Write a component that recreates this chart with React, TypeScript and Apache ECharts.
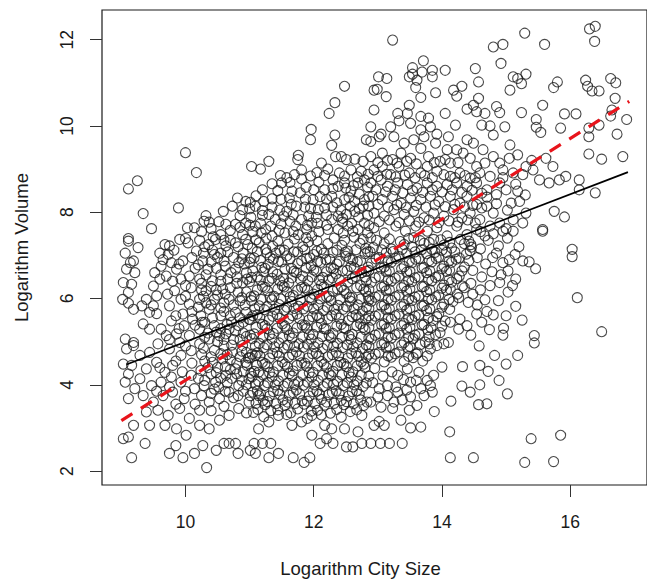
import React, { useEffect, useRef } from "react";
import * as echarts from "echarts";

const xTickValues = [10, 12, 14, 16];
const yTickValues = [2, 4, 6, 8, 10, 12];
const xRange = [8.698, 17.197];
const yRange = [1.677, 12.688];

const blackFit = [[9.08, 4.47], [16.9, 8.93]];
const redFit = [[9.0, 3.17], [16.92, 10.57]];

const upperLeftPoints = [
  [12.48,10.92],[12.33,10.54],[12.24,10.29],[11.96,9.92],[11.95,9.68],[12.33,9.79],[12.28,9.55],[11.76,9.32],[11.75,9.22],[10.0,9.38],
  [10.17,8.92],[9.11,8.54],[9.25,8.73],[9.34,7.97],[9.47,7.62],[9.89,8.10],[10.03,7.64],[10.14,7.64],[10.29,7.79],[10.37,7.77],
  [10.59,8.02],[11.03,9.06],[11.17,9.0],[11.30,9.18],[11.48,8.85],[11.35,8.66],[11.50,8.68],[11.63,8.69],[11.70,8.87],[11.81,8.98],
  [11.81,8.77],[12.12,9.14],[12.08,8.70],[12.17,8.85],[12.22,9.0],[12.34,9.29],[12.43,9.29],[12.51,9.22],[12.64,9.23],[12.77,9.18],
  [12.82,9.68],[11.66,8.49],[11.79,8.45],[11.35,8.31],[11.22,8.25],[10.81,8.33],[10.94,8.25],[11.01,8.23],[10.73,8.14],[10.89,8.06],
  [11.09,8.14],[11.58,8.02],[11.73,8.14],[11.86,8.12],[11.99,8.29],[12.07,8.06],[10.63,7.72],[10.78,7.72],[10.94,7.75],[11.09,7.68],
  [11.25,7.60],[11.40,7.83],[11.53,7.91],[11.63,7.79],[11.81,7.83],[11.97,7.75],[12.17,8.10],[12.28,7.83],[12.38,7.91],[12.51,7.95],
  [12.64,8.02],[12.77,8.14],[12.22,7.60],[12.38,7.60],[12.53,7.68],[12.69,7.60],[12.79,7.75],[9.11,7.39],[10.0,7.39],[10.43,7.43],
  [10.89,7.48],[11.35,7.45],[11.55,7.52],[11.76,7.48],[11.97,7.45],[12.17,8.52],[12.28,8.37],[12.38,8.60],[12.48,8.68],[12.58,8.49],
  [12.69,8.68],[12.79,8.75],[12.48,8.29],[12.64,8.25],[12.79,8.29],[12.40,8.91],[12.58,8.98],[12.74,8.95]
];

const upperDenseInfill = [
  [11.05,7.55],[11.18,7.52],[11.46,7.58],[11.68,7.55],[11.89,7.60],[12.08,7.55],[12.46,7.52],[12.61,7.56],[12.84,7.52],
  [11.00,7.70],[11.17,7.74],[11.33,7.68],[11.49,7.73],[11.72,7.68],[11.90,7.70],[12.06,7.74],[12.20,7.70],[12.45,7.77],[12.59,7.74],[12.86,7.69],
  [10.85,7.92],[11.02,7.88],[11.20,7.93],[11.30,7.95],[11.68,7.94],[11.92,7.91],[12.04,7.88],[12.20,7.94],[12.45,7.86],[12.70,7.89],[12.84,7.93],
  [11.00,8.08],[11.20,8.04],[11.35,8.12],[11.47,8.05],[11.65,8.18],[11.95,8.09],[12.30,8.12],[12.42,8.05],[12.57,8.14],[12.71,8.08],
  [11.10,8.38],[11.49,8.30],[11.62,8.33],[11.87,8.30],[12.10,8.36],[12.20,8.30],[12.36,8.22],[12.55,8.34],[12.71,8.42],[12.86,8.36],
  [11.20,8.52],[11.44,8.50],[11.88,8.58],[12.00,8.52],[12.30,8.55],[12.50,8.56],[12.62,8.62],[12.84,8.58],
  [11.58,8.80],[11.95,8.84],[12.05,8.92],[12.30,8.75],[12.48,8.84],[12.68,8.82],[12.85,8.88],
  [13.02,7.78],[13.18,7.82],[13.33,7.76],[13.49,7.80],[13.64,7.77],[13.80,7.82],[13.95,7.76],[14.11,7.80],[14.25,7.77],[14.40,7.82],[14.52,7.75],
  [12.86,8.14],[13.00,8.18],[13.16,8.12],[13.30,8.17],[13.44,8.11],[13.60,8.16],[13.75,8.12],[13.89,8.17],[14.05,8.13],[14.20,8.18],[14.35,8.12],[14.48,8.16],[14.62,8.10],
  [12.97,8.52],[13.12,8.47],[13.27,8.52],[13.39,8.45],[13.54,8.50],[13.70,8.46],[13.85,8.52],[14.00,8.47],[14.16,8.52],[14.31,8.46],[14.47,8.51],[14.62,8.44],
  [13.00,8.83],[13.14,8.88],[13.28,8.82],[13.42,8.86],[13.58,8.80],[13.73,8.85],[13.85,8.80],[14.03,8.87],[14.20,8.80],[14.36,8.85],[14.52,8.80],
  [13.00,9.15],[13.15,9.20],[13.30,9.14],[13.45,9.18],[13.60,9.12],[13.88,9.15],[14.05,9.22],[14.25,9.15]
];

const upperRightPoints = [
  [13.23,11.99],[14.80,11.83],[14.95,11.89],[15.29,12.15],[15.60,11.89],[16.30,12.25],[16.39,12.31],[16.38,11.96],[14.92,11.45],[13.71,11.51],
  [13.54,11.35],[13.54,11.20],[13.69,11.25],[13.85,11.29],[14.05,11.29],[14.52,11.33],[13.01,11.14],[13.14,11.10],[12.94,10.83],[12.99,10.85],
  [13.13,10.68],[13.49,11.14],[13.61,11.06],[13.59,10.89],[13.67,10.66],[13.85,11.14],[13.90,10.77],[14.18,10.83],[14.31,10.92],[14.23,10.69],
  [14.57,11.02],[14.57,10.64],[15.11,11.14],[15.18,11.10],[15.31,11.20],[15.24,10.98],[15.06,10.83],[15.80,11.02],[15.74,10.89],[16.24,11.06],
  [16.27,10.92],[16.45,10.81],[16.34,10.81],[16.63,11.10],[16.71,11.00],[16.70,10.64],[16.65,10.37],[16.88,10.15],[16.73,9.81],[16.82,9.29],
  [16.29,9.35],[16.49,9.23],[16.39,8.45],[12.94,10.37],[13.31,10.29],[13.49,10.48],[13.46,10.29],[13.67,10.22],[13.79,10.18],[14.05,10.29],
  [14.39,10.39],[14.49,10.48],[14.54,10.33],[14.67,10.29],[14.85,10.45],[14.90,10.31],[15.24,10.31],[15.57,10.48],[15.91,10.28],[16.09,10.28],
  [15.47,10.15],[15.47,9.97],[15.54,9.85],[15.85,9.95],[16.29,9.95],[16.29,9.75],[16.45,10.02],[16.63,10.23],[12.89,9.98],[13.05,9.81],
  [13.20,9.98],[13.33,10.12],[13.51,10.06],[13.67,9.91],[13.82,9.98],[13.92,9.81],[14.10,9.75],[14.21,10.02],[14.39,9.68],[14.49,9.60],
  [14.62,10.02],[14.75,10.00],[14.80,9.79],[14.98,9.98],[15.06,9.56],[15.18,9.33],[15.31,9.06],[15.62,9.25],[15.73,9.06],[14.90,9.14],
  [12.89,9.64],[13.02,9.75],[13.25,9.75],[13.41,9.60],[13.56,9.68],[13.72,9.75],[13.90,9.60],[14.08,9.45],[14.23,9.45],[14.64,9.45],
  [14.80,9.29],[12.89,9.29],[13.07,9.37],[13.23,9.22],[13.36,9.37],[13.51,9.25],[13.67,9.48],[13.79,9.29],[13.97,9.18],[14.13,9.14],
  [14.33,9.37],[14.44,9.25],[14.54,9.06],[14.67,9.14],[12.94,8.98],[13.07,9.06],[13.20,8.87],[13.33,9.06],[13.49,8.91],[13.67,8.91],
  [13.77,9.06],[13.92,8.95],[14.13,8.83],[14.28,8.91],[14.44,8.79],[14.59,8.91],[14.75,8.83],[14.95,8.98],[15.11,8.91],[15.26,8.87],
  [15.42,8.98],[15.52,8.75],[15.67,8.68],[15.83,8.75],[15.93,8.83],[16.14,8.75],[16.14,8.52],[15.75,8.02],[15.91,7.89],[15.57,7.60],
  [15.18,8.49],[15.21,8.25],[15.08,8.21],[15.00,8.52],[14.90,8.68],[15.26,7.75],[15.11,7.83],[14.95,7.56],[15.31,7.98],[12.89,8.68],
  [13.05,8.75],[13.15,8.60],[13.31,8.68],[13.46,8.64],[13.61,8.56],[13.77,8.68],[13.92,8.60],[14.08,8.64],[14.23,8.68],[14.39,8.60],
  [14.54,8.68],[14.70,8.52],[14.85,8.41],[12.92,8.37],[13.07,8.29],[13.23,8.37],[13.36,8.21],[13.51,8.33],[13.67,8.29],[13.82,8.37],
  [13.95,8.25],[14.13,8.37],[14.28,8.21],[14.39,8.37],[14.54,8.18],[14.70,8.14],[14.80,7.98],[12.94,7.98],[13.10,7.91],[13.25,8.06],
  [13.41,7.95],[13.56,8.02],[13.72,7.87],[13.87,7.98],[14.03,7.91],[14.18,8.06],[14.31,7.87],[14.44,7.98],[14.59,7.83],[14.75,7.68],
  [14.90,7.75],[12.94,7.64],[13.10,7.52],[13.28,7.68],[13.43,7.56],[13.59,7.68],[13.77,7.56],[13.92,7.64],[14.08,7.45],[14.23,7.68],
  [14.39,7.48],[14.54,7.60],[14.67,7.45],[15.11,7.56],[12.89,7.41],[13.56,7.41],[13.87,7.37]
];

const lowerLeftPoints = [
  [9.11,7.33],[9.26,7.18],[9.06,7.05],[9.14,6.83],[9.19,6.87],[9.08,6.68],[9.21,6.60],[9.03,6.37],[9.16,6.33],[9.11,6.14],
  [9.02,5.98],[9.11,5.89],[9.19,5.75],[9.32,5.83],[9.34,5.41],[9.44,5.29],[9.06,5.06],[9.19,4.98],[9.19,4.91],[9.08,4.83],
  [9.29,4.68],[9.03,4.48],[9.16,4.45],[9.11,4.25],[9.06,4.06],[9.21,3.91],[9.11,3.68],[9.19,3.06],[9.11,2.79],[9.39,5.98],
  [9.44,5.68],[9.50,5.83],[9.55,6.06],[9.50,6.29],[9.52,6.60],[9.62,6.75],[9.70,6.52],[9.78,6.83],[9.73,7.02],[9.68,7.25],
  [9.75,7.22],[9.91,7.37],[10.04,7.29],[10.17,7.10],[9.96,6.87],[9.86,6.68],[9.93,6.45],[10.06,6.52],[10.22,6.45],[10.09,6.25],
  [9.83,6.18],[9.93,5.98],[9.75,5.83],[10.06,5.87],[10.22,5.98],[9.96,5.64],[9.78,5.48],[9.62,5.29],[9.70,5.14],[9.86,5.18],
  [9.98,5.37],[10.11,5.52],[10.24,5.60],[10.37,5.75],[10.45,5.98],[10.32,6.18],[10.42,6.41],[10.35,6.68],[10.27,6.87],[10.45,7.02],
  [10.47,7.37],[10.63,7.22],[10.78,7.29],[10.94,7.37],[10.60,6.87],[10.71,6.60],[10.83,6.83],[10.89,6.37],[10.58,6.22],[10.68,5.98],
  [10.78,5.68],[10.55,5.60],[10.45,5.37],[10.22,5.29],[10.06,5.14],[9.91,4.98],[9.75,4.83],[9.57,4.95],[9.44,4.75],[9.55,4.52],
  [9.39,4.37],[9.68,4.29],[9.80,4.45],[9.93,4.68],[10.09,4.79],[10.22,4.95],[10.37,5.06],[10.53,5.14],[10.68,5.29],[10.83,5.37],
  [10.99,5.52],[9.29,4.14],[9.47,3.98],[9.62,4.06],[9.78,4.18],[9.93,4.06],[10.09,4.22],[10.24,4.33],[10.42,4.52],[10.58,4.60],
  [10.73,4.75],[10.89,4.91],[9.34,3.75],[9.50,3.60],[9.65,3.75],[9.80,3.83],[9.98,3.68],[10.14,3.91],[10.29,3.98],[10.47,4.06],
  [10.63,4.22],[10.78,4.37],[10.94,4.52],[11.09,4.68],[9.39,3.37],[9.57,3.41],[9.73,3.29],[9.91,3.45],[10.06,3.22],[10.22,3.41],
  [10.37,3.60],[10.53,3.68],[10.68,3.83],[10.83,3.98],[10.99,4.14],[11.14,4.29],[9.44,3.06],[9.68,3.06],[9.86,2.98],[10.01,2.83],
  [10.22,3.06],[10.37,2.98],[10.53,3.18],[10.68,3.29],[10.83,3.45],[10.99,3.60],[11.14,3.75],[11.14,2.98],[11.30,3.14],[11.45,3.29],
  [11.66,3.06],[11.81,3.14],[11.97,3.29],[11.97,2.83],[12.17,3.06],[12.28,2.98],[12.48,2.98],[12.69,2.91],[10.90,7.05],[10.75,6.95],
  [10.95,6.60],[10.82,6.15],[10.93,5.85],[10.65,5.40],[10.90,5.20],[10.75,5.05],[10.60,4.90],[10.85,4.65],[10.70,4.35],[10.55,4.15],
  [10.90,4.30]
];

const leftInfill = [
  [9.60,7.05],[9.82,7.12],[10.10,6.95],[10.30,7.20],[10.55,7.05],[10.70,7.35],[9.65,6.90],[9.90,6.80],[10.15,6.70],[10.40,6.85],[10.55,6.55],[10.80,6.50],
  [9.60,6.45],[9.80,6.40],[10.00,6.30],[10.25,6.20],[10.48,6.20],[10.70,6.25],[10.95,6.15],[9.72,6.10],[10.00,6.05],[10.20,5.80],[10.40,5.85],[10.60,5.90],[10.85,5.95],
  [9.55,5.65],[9.85,5.60],[10.10,5.70],[10.30,5.45],[10.55,5.30],[10.70,5.60],[10.90,5.45],[9.90,5.30],[10.15,5.38],[10.35,5.20],[10.60,5.05],[10.85,5.05],
  [9.75,5.05],[10.00,4.90],[10.25,4.70],[10.45,4.80],[10.65,4.70],[10.95,4.75],[9.85,4.55],[10.10,4.50],[10.30,4.55],[10.50,4.40],[10.80,4.50],[9.60,4.40],
  [9.95,4.30],[10.20,4.15],[10.40,4.25],[10.65,4.05],[10.95,4.00],[9.75,3.95],[10.00,3.85],[10.25,3.75],[10.45,3.90],[10.75,3.70],[10.90,3.85],[9.55,3.85],
  [9.85,3.55],[10.15,3.55],[10.40,3.40],[10.60,3.50],[10.95,3.35]
];

const midLeftInfill = [
  [10.25,7.55],[10.40,7.62],[10.55,7.48],[10.70,7.58],[10.85,7.65],[10.52,7.78],[10.32,7.92],
  [10.22,7.35],[10.36,7.25],[10.60,7.35],[10.82,7.20],[10.97,7.25],
  [10.28,7.05],[10.42,7.12],[10.66,7.08],[10.88,6.92],[10.50,6.95],
  [10.20,6.78],[10.32,6.55],[10.48,6.70],[10.62,6.75],[10.78,6.68],[10.92,6.80],
  [10.25,6.35],[10.40,6.28],[10.55,6.40],[10.66,6.45],[10.80,6.35],[10.96,6.45],
  [10.28,6.05],[10.50,6.08],[10.62,6.10],[10.75,5.85],[10.88,6.02],[10.55,5.78],[10.32,5.90],
  [10.26,5.45],[10.42,5.55],[10.60,5.70],[10.72,5.45],[10.95,5.68],[10.85,5.55],
  [10.30,5.10],[10.48,5.22],[10.63,5.18],[10.78,5.25],[10.95,5.12],[10.50,5.00],[10.72,4.92],
  [10.28,4.85],[10.40,4.65],[10.55,4.72],[10.70,4.58],[10.88,4.78],[10.98,4.62],
  [10.35,4.40],[10.48,4.28],[10.62,4.42],[10.80,4.25],[10.96,4.45],
  [10.30,4.10],[10.52,3.95],[10.72,4.15],[10.88,4.10],[10.40,3.80],[10.62,3.85],[10.82,3.75]
];

const coreCloudPoints = [
  [11.04,7.17],[11.15,7.29],[11.36,7.21],[11.47,7.12],[11.60,7.26],[11.83,7.20],[11.92,7.31],[12.12,7.14],[12.22,7.27],[12.44,7.23],[12.53,7.10],[12.72,7.28],[12.81,7.16],
  [11.07,6.94],[11.27,7.06],[11.37,6.91],[11.58,6.99],[11.69,7.08],[11.89,6.93],[12.00,7.02],[12.19,6.90],[12.30,7.07],[12.50,6.98],[12.61,6.89],[12.80,7.04],
  [11.00,6.84],[11.19,6.72],[11.29,6.79],[11.45,6.86],[11.65,6.70],[11.75,6.81],[11.96,6.76],[12.06,6.86],[12.27,6.71],[12.36,6.80],[12.58,6.74],[12.68,6.85],[12.85,6.73],
  [11.12,6.50],[11.22,6.62],[11.43,6.56],[11.53,6.47],[11.73,6.60],[11.83,6.52],[12.04,6.63],[12.14,6.49],[12.35,6.57],[12.45,6.64],[12.65,6.51],[12.75,6.60],
  [11.00,6.39],[11.20,6.28],[11.30,6.40],[11.51,6.30],[11.61,6.36],[11.81,6.26],[11.91,6.41],[12.12,6.32],[12.23,6.43],[12.43,6.27],[12.53,6.38],[12.73,6.30],[12.82,6.41],
  [11.07,6.06],[11.28,6.18],[11.38,6.05],[11.58,6.16],[11.68,6.07],[11.90,6.20],[12.00,6.10],[12.20,6.04],[12.30,6.17],[12.51,6.11],[12.60,6.02],[12.81,6.16],
  [11.03,5.95],[11.15,5.83],[11.35,5.97],[11.46,5.86],[11.66,5.93],[11.76,5.82],[11.97,5.97],[12.07,5.85],[12.27,5.95],[12.38,5.84],[12.57,5.94],[12.69,5.85],[12.86,5.96],
  [11.12,5.62],[11.23,5.74],[11.43,5.63],[11.54,5.73],[11.74,5.64],[11.84,5.76],[12.05,5.61],[12.15,5.72],[12.35,5.63],[12.46,5.75],[12.66,5.62],[12.76,5.71],
  [11.01,5.51],[11.20,5.40],[11.30,5.50],[11.51,5.41],[11.61,5.53],[11.82,5.39],[11.92,5.50],[12.12,5.42],[12.22,5.53],[12.43,5.40],[12.54,5.49],[12.73,5.41],[12.81,5.52],
  [11.07,5.18],[11.27,5.30],[11.37,5.19],[11.58,5.28],[11.68,5.20],[11.89,5.31],[11.99,5.17],[12.19,5.29],[12.30,5.19],[12.50,5.30],[12.60,5.17],[12.80,5.28],
  [11.04,5.07],[11.15,4.96],[11.35,5.06],[11.46,4.97],[11.66,5.08],[11.77,4.95],[11.96,5.06],[12.07,4.97],[12.27,5.09],[12.37,4.96],[12.58,5.05],[12.68,4.97],[12.86,5.08],
  [11.12,4.74],[11.22,4.86],[11.43,4.75],[11.53,4.85],[11.73,4.76],[11.84,4.87],[12.04,4.73],[12.14,4.84],[12.35,4.75],[12.45,4.86],[12.66,4.74],[12.76,4.84],
  [11.01,4.63],[11.20,4.52],[11.31,4.62],[11.51,4.53],[11.61,4.64],[11.81,4.51],[11.91,4.62],[12.12,4.54],[12.22,4.65],[12.42,4.52],[12.53,4.62],[12.74,4.53],[12.82,4.64],
  [11.07,4.31],[11.28,4.42],[11.37,4.30],[11.59,4.41],[11.68,4.32],[11.89,4.43],[11.99,4.29],[12.20,4.40],[12.30,4.31],[12.51,4.42],[12.61,4.30],[12.80,4.40],
  [11.04,4.19],[11.14,4.08],[11.35,4.18],[11.45,4.09],[11.66,4.20],[11.76,4.07],[11.97,4.18],[12.07,4.10],[12.27,4.21],[12.37,4.08],[12.58,4.18],[12.68,4.09],[12.86,4.20],
  [11.12,3.86],[11.23,3.98],[11.44,3.87],[11.53,3.97],[11.73,3.88],[11.84,3.99],[12.05,3.85],[12.15,3.96],[12.35,3.86],[12.46,3.98],[12.67,3.86],[12.77,3.96],
  [11.01,3.75],[11.21,3.64],[11.31,3.74],[11.52,3.65],[11.62,3.76],[11.82,3.63],[11.93,3.74],[12.12,3.66],[12.23,3.77],[12.43,3.64],[12.54,3.74],[12.73,3.65],
  [11.13,3.43],[11.24,3.54],[11.44,3.42],[11.55,3.52],[11.75,3.44],[11.85,3.55],[12.06,3.41],[12.17,3.53],[12.36,3.43],[12.47,3.54],[12.67,3.42],[12.78,3.52],
  [11.22,3.26],[11.58,3.31],[11.90,3.22],[12.12,3.30],[12.43,3.25],[12.75,3.29]
];

const coreInfill = [
  [11.10,7.36],[11.26,7.40],[11.44,7.33],[11.70,7.38],[11.88,7.41],[12.05,7.34],[12.32,7.40],[12.48,7.35],[12.63,7.42],[12.77,7.37],
  [11.12,7.09],[11.25,7.14],[11.41,7.05],[11.54,7.12],[11.75,7.08],[11.86,7.13],[12.05,7.10],[12.16,7.05],[12.36,7.12],[12.49,7.07],[12.66,7.13],[12.84,7.08],
  [11.01,6.93],[11.17,6.88],[11.32,6.95],[11.50,6.85],[11.63,6.92],[11.81,6.87],[11.94,6.94],[12.11,6.84],[12.25,6.91],[12.40,6.86],[12.56,6.93],[12.73,6.88],
  [11.05,6.64],[11.24,6.70],[11.36,6.62],[11.55,6.68],[11.69,6.63],[11.88,6.71],[12.00,6.66],[12.20,6.62],[12.31,6.69],[12.52,6.65],[12.63,6.71],[12.82,6.63],
  [11.03,6.49],[11.17,6.43],[11.35,6.47],[11.47,6.41],[11.66,6.48],[11.79,6.44],[11.97,6.50],[12.09,6.42],[12.29,6.48],[12.40,6.44],[12.60,6.46],[12.80,6.50],
  [11.12,6.20],[11.24,6.26],[11.44,6.22],[11.54,6.27],[11.75,6.19],[11.86,6.25],[12.06,6.21],[12.16,6.27],[12.37,6.22],[12.47,6.19],[12.67,6.25],[12.78,6.22],
  [11.02,6.04],[11.18,5.98],[11.32,6.03],[11.49,5.99],[11.63,6.04],[11.79,5.97],[11.94,6.02],[12.10,5.99],[12.24,6.05],[12.41,5.98],[12.56,6.03],[12.73,5.99],[12.85,6.05],
  [11.08,5.76],[11.27,5.81],[11.39,5.75],[11.58,5.80],[11.70,5.77],[11.90,5.82],[12.00,5.76],[12.21,5.80],[12.32,5.75],[12.51,5.81],[12.63,5.76],[12.82,5.80],
  [11.05,5.60],[11.16,5.55],[11.36,5.59],[11.47,5.54],[11.67,5.60],[11.78,5.53],[11.98,5.58],[12.09,5.55],[12.28,5.60],[12.40,5.54],[12.60,5.58],[12.70,5.55],[12.86,5.60],
  [11.10,5.33],[11.24,5.37],[11.43,5.31],[11.55,5.36],[11.74,5.32],[11.86,5.38],[12.05,5.34],[12.16,5.30],[12.36,5.36],[12.47,5.32],[12.67,5.37],[12.77,5.33],
  [11.01,5.15],[11.21,5.11],[11.31,5.16],[11.52,5.10],[11.62,5.14],[11.83,5.11],[11.93,5.16],[12.13,5.12],[12.24,5.15],[12.44,5.10],[12.55,5.14],[12.74,5.11],
  [11.09,4.89],[11.27,4.93],[11.39,4.88],[11.59,4.92],[11.70,4.89],[11.90,4.94],[12.01,4.88],[12.21,4.92],[12.31,4.89],[12.52,4.93],[12.62,4.88],[12.82,4.92],
  [11.04,4.71],[11.16,4.67],[11.36,4.72],[11.46,4.66],[11.67,4.70],[11.78,4.67],[11.98,4.72],[12.08,4.66],[12.29,4.70],[12.39,4.67],[12.59,4.72],[12.70,4.66],[12.86,4.71],
  [11.11,4.45],[11.24,4.49],[11.44,4.44],[11.55,4.48],[11.74,4.45],[11.86,4.50],[12.06,4.44],[12.16,4.48],[12.37,4.45],[12.47,4.49],[12.68,4.44],[12.78,4.48],
  [11.02,4.27],[11.21,4.23],[11.31,4.28],[11.52,4.22],[11.62,4.26],[11.83,4.23],[11.93,4.28],[12.14,4.22],[12.24,4.26],[12.44,4.23],[12.55,4.28],[12.74,4.22],
  [11.09,4.01],[11.28,4.05],[11.40,4.00],[11.59,4.04],[11.70,4.01],[11.90,4.06],[12.01,4.00],[12.21,4.04],[12.31,4.01],[12.52,4.05],[12.63,4.00],[12.82,4.04],
  [11.05,3.83],[11.17,3.79],[11.37,3.84],[11.47,3.78],[11.68,3.82],[11.78,3.79],[11.99,3.84],[12.09,3.78],[12.29,3.82],[12.40,3.79],[12.60,3.84],[12.71,3.78],
  [11.10,3.57],[11.28,3.61],[11.41,3.56],[11.59,3.60],[11.71,3.57],[11.90,3.62],[12.02,3.56],[12.20,3.60],[12.32,3.57],[12.51,3.61],[12.62,3.56],[12.83,3.60],
  [11.06,3.36],[11.33,3.40],[11.64,3.35],[11.96,3.39],[12.26,3.34],[12.57,3.38]
];

const rightCloudPoints = [
  [12.93,7.18],[13.10,7.27],[13.21,7.15],[13.41,7.25],[13.53,7.20],[13.72,7.28],[13.84,7.14],[14.03,7.24],[14.15,7.17],[14.35,7.27],[14.46,7.19],
  [13.02,6.95],[13.13,7.06],[13.33,6.97],[13.45,7.05],[13.64,6.93],[13.76,7.04],[13.95,6.96],[14.07,7.07],[14.27,6.94],[14.38,7.03],
  [12.90,6.82],[13.10,6.73],[13.21,6.84],[13.41,6.74],[13.53,6.83],[13.72,6.72],[13.84,6.85],[14.03,6.75],[14.15,6.84],[14.35,6.73],
  [13.02,6.51],[13.13,6.62],[13.33,6.52],[13.45,6.61],[13.64,6.50],[13.76,6.60],[13.95,6.53],[14.07,6.63],[14.27,6.52],
  [12.90,6.38],[13.10,6.29],[13.21,6.40],[13.41,6.30],[13.53,6.39],[13.72,6.28],[13.84,6.41],[14.03,6.31],[14.15,6.38],[14.32,6.29],
  [13.02,6.07],[13.13,6.18],[13.33,6.08],[13.45,6.17],[13.64,6.06],[13.76,6.16],[13.95,6.08],[14.07,6.19],[14.24,6.10],
  [12.90,5.94],[13.10,5.85],[13.21,5.96],[13.41,5.86],[13.53,5.95],[13.72,5.84],[13.84,5.97],[14.03,5.87],[14.17,5.93],
  [13.02,5.63],[13.13,5.74],[13.33,5.64],[13.45,5.73],[13.64,5.62],[13.76,5.72],[13.95,5.65],
  [12.90,5.50],[13.10,5.41],[13.21,5.52],[13.41,5.42],[13.53,5.51],[13.72,5.40],[13.86,5.49],
  [13.02,5.19],[13.13,5.30],[13.33,5.20],[13.45,5.29],[13.64,5.18],[13.78,5.27],[13.97,5.21],
  [12.90,5.06],[13.10,4.97],[13.21,5.08],[13.41,4.98],[13.55,5.07],[13.74,4.99],
  [13.02,4.75],[13.13,4.86],[13.33,4.76],[13.47,4.85],[13.62,4.74],[13.82,4.83],
  [12.90,4.62],[13.10,4.53],[13.21,4.64],[13.41,4.54],[13.55,4.63],[13.70,4.55],
  [15.57,7.56],[16.03,7.14],[16.03,6.97],[16.11,6.02],[16.49,5.23],[15.85,2.83],[15.74,2.22],[14.49,2.31],[14.12,2.91],[15.44,5.14],
  [15.44,4.97],[15.18,4.68],[15.00,4.48],[15.02,3.79],[14.82,4.68],[14.89,4.10],[14.59,4.45],[14.72,4.31],[14.59,4.00],[14.57,3.54],
  [14.70,3.56],[14.32,4.42],[14.31,3.97],[14.44,3.83],[14.14,3.62],[13.88,3.38],[13.36,3.18],[13.51,3.00],[13.67,3.02],[13.02,3.15],
  [14.74,5.28],[14.96,5.31],[14.80,5.62],[14.67,5.97],[15.15,5.82],[15.03,6.15],[14.79,6.95],[14.95,6.83],[14.90,6.37],[15.14,7.02],
  [15.26,6.87],[15.36,6.85],[15.46,6.69],[15.03,6.64],[14.48,6.10],[14.41,5.91],[14.54,5.64],[14.28,5.52],[14.39,5.37],[14.26,5.29],
  [14.13,5.45],[14.05,5.48],[14.10,4.98],[14.03,4.95],[13.92,4.91],[14.00,4.41],[13.87,4.22],[13.77,4.10],[13.82,3.98],[13.85,3.83],
  [13.64,4.29],[13.67,3.91],[13.51,4.06],[13.46,4.37],[13.31,4.22],[13.15,3.98],[13.02,3.91],[12.89,3.60],[13.05,3.48],[13.23,3.45],
  [13.51,3.72],[13.61,3.52],[13.49,3.41],[13.15,3.75],[13.25,3.60],[13.31,3.83],[12.94,3.06],[13.10,3.06],[12.95,4.38],[13.08,4.20],
  [13.22,4.30],[13.40,4.12],[12.92,4.05],[13.28,3.95],[13.45,3.88],[13.60,4.10],[13.00,3.72],[13.38,3.65],[13.72,3.75]
];

const rightInfill = [
  [12.98,7.35],[13.18,7.38],[13.35,7.32],[13.48,7.39],[13.66,7.34],[13.80,7.30],[13.98,7.36],[14.12,7.30],[14.29,7.37],[14.42,7.33],
  [12.88,7.08],[13.06,7.13],[13.24,7.09],[13.38,7.14],[13.58,7.08],[13.68,7.13],[13.89,7.07],[14.00,7.12],[14.20,7.08],[14.44,7.11],
  [12.97,6.92],[13.16,6.87],[13.28,6.93],[13.49,6.86],[13.59,6.91],[13.80,6.88],[13.91,6.93],[14.11,6.87],[14.22,6.91],[14.42,6.88],
  [12.86,6.65],[13.05,6.70],[13.18,6.64],[13.37,6.69],[13.50,6.63],[13.69,6.70],[13.81,6.64],[14.00,6.69],[14.12,6.66],[14.31,6.64],
  [12.96,6.48],[13.16,6.43],[13.27,6.47],[13.48,6.42],[13.58,6.48],[13.79,6.44],[13.90,6.49],[14.11,6.43],[14.23,6.46],
  [12.86,6.21],[13.06,6.26],[13.18,6.20],[13.37,6.25],[13.50,6.22],[13.69,6.27],[13.81,6.20],[14.00,6.24],[14.13,6.21],[14.35,6.25],
  [12.96,6.03],[13.16,5.99],[13.27,6.04],[13.48,5.98],[13.58,6.03],[13.79,5.99],[13.90,6.04],[14.11,5.98],[14.26,6.02],
  [12.86,5.77],[13.06,5.82],[13.18,5.76],[13.37,5.81],[13.50,5.77],[13.69,5.82],[13.81,5.76],[14.00,5.80],[14.12,5.75],
  [12.96,5.59],[13.16,5.55],[13.27,5.60],[13.48,5.54],[13.58,5.59],[13.79,5.55],[13.92,5.58],
  [12.86,5.33],[13.06,5.38],[13.18,5.32],[13.37,5.37],[13.50,5.33],[13.69,5.38],[13.83,5.32],[14.00,5.36],
  [12.96,5.15],[13.16,5.11],[13.27,5.16],[13.48,5.10],[13.58,5.15],[13.80,5.11],[13.90,5.16],
  [12.86,4.89],[13.06,4.93],[13.18,4.88],[13.37,4.92],[13.50,4.89],[13.66,4.93],[13.80,4.95],
  [12.96,4.71],[13.16,4.67],[13.27,4.72],[13.48,4.66],[13.60,4.71],[13.77,4.67]
];

const rightTransition = [
  [14.45,7.25],[14.60,7.15],[14.72,7.35],[14.88,7.22],[15.02,7.40],[14.55,6.95],[14.68,6.80],[14.85,7.05],[15.05,6.90],[15.20,7.20],
  [14.48,6.65],[14.62,6.50],[14.78,6.62],[14.92,6.55],[15.15,6.45],[14.45,6.35],[14.60,6.20],[14.75,6.30],[15.10,6.30],
  [14.55,5.85],[14.70,5.70],[14.88,5.95],[15.00,5.60],[14.62,5.45],[14.95,5.15],[15.25,5.50],[14.45,5.15],[14.58,4.90],
  [14.60,7.55],[14.80,7.50],[15.00,7.62],[14.85,8.20],[15.02,8.05],[14.70,8.35],[15.15,8.65],[14.95,8.80],[15.30,8.40],[15.40,9.20],[15.05,9.25]
];

const bottomRowPoints = [
  [9.16,2.31],[9.37,2.64],[9.03,2.75],[9.75,2.41],[9.85,2.59],[9.96,2.31],[10.14,2.41],[10.27,2.59],[10.33,2.08],[10.48,2.48],
  [10.60,2.64],[10.68,2.64],[10.78,2.64],[10.82,2.41],[11.01,2.48],[11.07,2.64],[11.20,2.64],[11.09,2.41],[11.30,2.31],[11.33,2.64],
  [11.45,2.41],[11.68,2.31],[11.85,2.20],[11.94,2.31],[12.10,2.64],[12.20,2.75],[12.30,2.64],[12.51,2.56],[12.61,2.56],[12.75,2.64],
  [12.89,2.64],[13.04,2.64],[13.18,2.64],[13.38,2.64],[14.13,2.31],[15.29,2.20],[15.39,2.75]
];

const observations = [
  ...upperLeftPoints,
  ...upperDenseInfill,
  ...upperRightPoints,
  ...lowerLeftPoints,
  ...leftInfill,
  ...midLeftInfill,
  ...coreCloudPoints,
  ...coreInfill,
  ...rightCloudPoints,
  ...rightInfill,
  ...rightTransition,
  ...bottomRowPoints,
];

const FONT = "'Liberation Sans', Arial, Helvetica, sans-serif";

export default function App() {
  const ref = useRef<HTMLDivElement>(null);
  useEffect(() => {
    if (!ref.current) return;
    const chart = echarts.init(ref.current, null, { renderer: "svg" });
    chart.setOption({
      animation: false,
      backgroundColor: "#ffffff",
      textStyle: { fontFamily: FONT },
      grid: {
        left: 102,
        top: 10,
        right: -5,
        bottom: 96,
        show: true,
        borderColor: "#1a1a1a",
        borderWidth: 1.2,
        backgroundColor: "transparent",
      },
      xAxis: {
        type: "value",
        min: xRange[0],
        max: xRange[1],
        splitLine: { show: false },
        axisLine: { show: false },
        axisTick: {
          show: true,
          customValues: xTickValues,
          length: 12,
          lineStyle: { color: "#333", width: 1 },
        },
        axisLabel: {
          customValues: xTickValues,
          margin: 28,
          fontSize: 17.5,
          color: "#1a1a1a",
          fontFamily: FONT,
        },
        name: "Logarithm City Size",
        nameLocation: "middle",
        nameGap: 74,
        nameTextStyle: {
          fontSize: 18.5,
          color: "#1a1a1a",
          fontFamily: FONT,
          padding: [0, 28, 0, 0],
        },
      },
      yAxis: {
        type: "value",
        min: yRange[0],
        max: yRange[1],
        splitLine: { show: false },
        axisLine: { show: false },
        axisTick: {
          show: true,
          customValues: yTickValues,
          length: 12,
          lineStyle: { color: "#333", width: 1 },
        },
        axisLabel: {
          customValues: yTickValues,
          rotate: 90,
          margin: 26,
          fontSize: 17.5,
          color: "#1a1a1a",
          fontFamily: FONT,
        },
        name: "Logarithm Volume",
        nameLocation: "middle",
        nameRotate: 90,
        nameGap: 71,
        nameTextStyle: {
          fontSize: 18.5,
          color: "#1a1a1a",
          fontFamily: FONT,
        },
      },
      series: [
        {
          type: "scatter",
          data: observations,
          symbol: "circle",
          symbolSize: 10,
          silent: true,
          itemStyle: {
            color: "rgba(0,0,0,0)",
            borderColor: "#1c1c1c",
            borderWidth: 1.1,
          },
          z: 2,
        },
        {
          type: "line",
          data: blackFit,
          symbol: "none",
          silent: true,
          lineStyle: { color: "#000000", width: 1.8 },
          z: 3,
        },
        {
          type: "line",
          data: redFit,
          symbol: "none",
          silent: true,
          lineStyle: { color: "#e8141b", width: 3.2, type: [13, 10] },
          z: 4,
        },
      ],
    });
    return () => chart.dispose();
  }, []);
  return (
    <div
      ref={ref}
      style={{ position: "fixed", left: 0, top: 0, width: 647, height: 583, background: "#fff" }}
    />
  );
}
